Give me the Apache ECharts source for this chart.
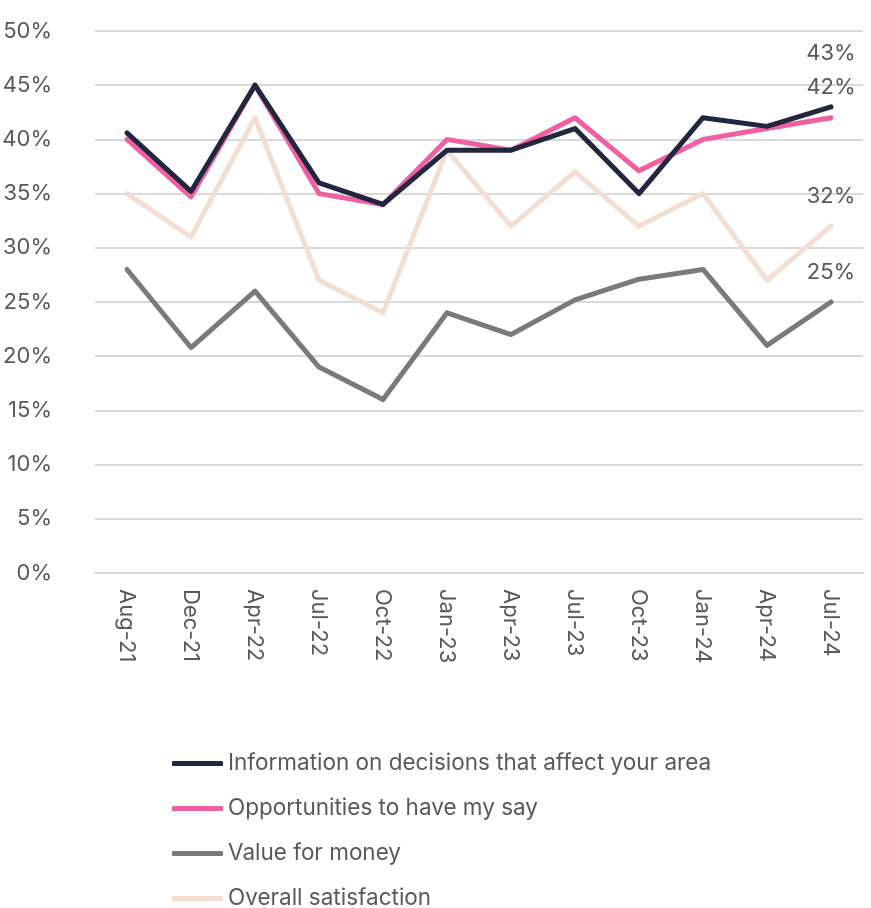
<!DOCTYPE html>
<html>
<head>
<meta charset="utf-8">
<script src="https://cdn.jsdelivr.net/npm/echarts@6/dist/echarts.min.js"></script>
<style>
  html, body { margin: 0; padding: 0; background: #fff; }
  #main { width: 871px; height: 908px; }
</style>
</head>
<body>
<div id="main"></div>
<script>
var months = ['Aug-21', 'Dec-21', 'Apr-22', 'Jul-22', 'Oct-22', 'Jan-23', 'Apr-23', 'Jul-23', 'Oct-23', 'Jan-24', 'Apr-24', 'Jul-24'];
var seriesNames = [
	'Information on decisions that affect your area',
	'Opportunities to have my say',
	'Value for money',
	'Overall satisfaction'
];
var information = [40.6, 35.2, 45, 36, 34, 39, 39, 41, 35, 42, 41.2, 43];
var opportunities = [40, 34.7, 45, 35, 34, 40, 39, 42, 37.1, 40, 41, 42];
var valueForMoney = [28, 20.8, 26, 19, 16, 24, 22, 25.2, 27.1, 28, 21, 25];
var overall = [35, 31, 42, 27, 24, 39, 32, 37, 32, 35, 27, 32];
var yTicks = [0, 5, 10, 15, 20, 25, 30, 35, 40, 45, 50];

var colors = ['#22263f', '#ef5fa1', '#7a7a7e', '#f3dfd2'];
var endLabelGap = [42, 19, 19, 19];
var fontFam = 'Inter, "Liberation Sans", sans-serif';
var fs = 22;

var myChart = echarts.init(document.getElementById('main'));
var lastIdx = months.length - 1;

var series = [information, opportunities, valueForMoney, overall].map(function (vals, i) {
	return {
		name: seriesNames[i],
		type: 'line',
		data: vals,
		symbol: 'circle',
		symbolSize: 0,
		showSymbol: true,
		lineStyle: { color: colors[i], width: 5, cap: 'round', join: 'round' },
		itemStyle: { color: colors[i] },
		label: {
			show: true,
			position: 'top',
			distance: endLabelGap[i],
			color: '#595959',
			fontSize: fs,
			fontFamily: fontFam,
			formatter: function (p) {
				return p.dataIndex === lastIdx ? Math.round(p.value) + '%' : '';
			}
		},
		emphasis: { disabled: true }
	};
});
// draw back to front: satisfaction, value, opportunities, information on top
series = [series[3], series[2], series[1], series[0]];

var option = {
	animation: false,
	backgroundColor: '#fff',
	grid: { left: 95, right: 8, top: 31, bottom: 335, outerBoundsMode: 'none' },
	xAxis: {
		type: 'category',
		data: months,
		boundaryGap: true,
		axisTick: { show: false },
		axisLine: { lineStyle: { color: '#d9d9d9', width: 2 } },
		axisLabel: {
			rotate: -90,
			margin: 16,
			color: '#595959',
			fontSize: fs,
			fontFamily: fontFam,
			interval: 0
		}
	},
	yAxis: {
		type: 'value',
		min: yTicks[0],
		max: yTicks[yTicks.length - 1],
		interval: 5,
		axisLine: { show: false },
		axisTick: { show: false },
		splitLine: { lineStyle: { color: '#d9d9d9', width: 2 } },
		axisLabel: {
			margin: 43,
			color: '#595959',
			fontSize: fs,
			fontFamily: fontFam,
			formatter: '{value}%'
		}
	},
	legend: {
		orient: 'vertical',
		left: 172,
		top: 752,
		height: 200,
		padding: 0,
		data: seriesNames.slice(),
		icon: 'roundRect',
		itemWidth: 51,
		itemHeight: 5,
		itemGap: 22,
		textStyle: { color: '#595959', fontSize: 22.5, fontFamily: fontFam }
	},
	series: series
};
myChart.setOption(option);
window.onresize = myChart.resize;
</script>
</body>
</html>
